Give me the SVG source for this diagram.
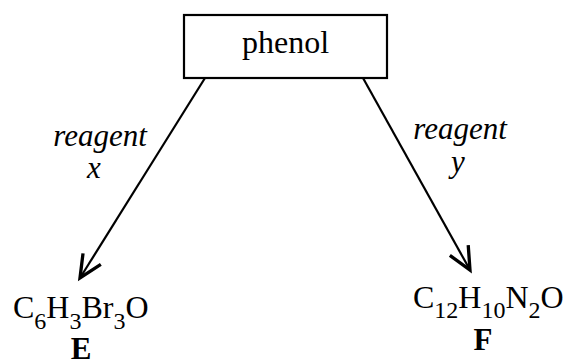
<svg xmlns="http://www.w3.org/2000/svg" width="563" height="362" viewBox="0 0 563 362">
  <style>
    .t { font-family: "Liberation Serif", "DejaVu Serif", "Times New Roman", serif; fill: #000; }
    .main { font-size: 32px; }
    .lbl { font-size: 31px; font-style: italic; }
    .cpd { font-size: 31px; font-weight: bold; }
    .sub { font-size: 24px; }
    .edge { stroke: #000; stroke-width: 2.2; fill: none; marker-end: url(#head); }
  </style>
  <defs>
    <marker id="head" markerUnits="userSpaceOnUse" markerWidth="30" markerHeight="30" refX="0" refY="0" viewBox="-16 -10 20 20" orient="auto">
      <path d="M-15,-7 L0,0 L-15,7" fill="none" stroke="#000" stroke-width="2.2"/>
    </marker>
  </defs>
  <rect width="563" height="362" fill="#fff"/>

  <g id="connectors">
    <line class="edge" x1="205" y1="78" x2="80" y2="278"/>
    <line class="edge" x1="363" y1="78" x2="470" y2="270"/>
    <text class="t lbl" font-family="Liberation Serif, serif" x="100" y="146" text-anchor="middle">reagent</text>
    <text class="t lbl" font-family="Liberation Serif, serif" x="94" y="178" text-anchor="middle">x</text>
    <text class="t lbl" font-family="Liberation Serif, serif" x="460" y="139" text-anchor="middle">reagent</text>
    <text class="t lbl" font-family="Liberation Serif, serif" x="458" y="172" text-anchor="middle">y</text>
  </g>

  <g id="phenol">
    <rect x="184" y="15" width="203" height="63" fill="#fff" stroke="#000" stroke-width="2.2"/>
    <text class="t main" font-family="Liberation Serif, serif" x="285.5" y="53" text-anchor="middle">phenol</text>
  </g>

  <g id="E">
    <text class="t main" font-family="Liberation Serif, serif" x="13" y="318">C<tspan class="sub" dy="11">6</tspan><tspan dy="-11">H</tspan><tspan class="sub" dy="11">3</tspan><tspan dy="-11">Br</tspan><tspan class="sub" dy="11">3</tspan><tspan dy="-11">O</tspan></text>
    <text class="t cpd" font-family="Liberation Serif, serif" x="81" y="359" text-anchor="middle">E</text>
  </g>

  <g id="F">
    <text class="t main" font-family="Liberation Serif, serif" x="413" y="308">C<tspan class="sub" dy="10">12</tspan><tspan dy="-10">H</tspan><tspan class="sub" dy="10">10</tspan><tspan dy="-10">N</tspan><tspan class="sub" dy="10">2</tspan><tspan dy="-10">O</tspan></text>
    <text class="t cpd" font-family="Liberation Serif, serif" x="483" y="350" text-anchor="middle">F</text>
  </g>
</svg>
